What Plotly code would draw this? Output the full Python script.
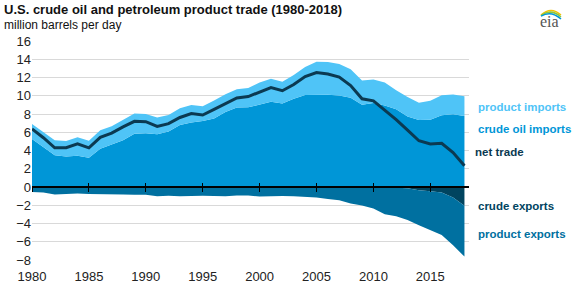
import plotly.graph_objects as go

# 数据 (million barrels per day)
years = list(range(1980, 2019))

crude_imports = [5.26, 4.40, 3.49, 3.33, 3.43, 3.20, 4.18, 4.67, 5.11, 5.84,
                 5.89, 5.78, 6.08, 6.79, 7.06, 7.23, 7.51, 8.23, 8.71, 8.73,
                 9.07, 9.33, 9.14, 9.67, 10.09, 10.13, 10.12, 10.03, 9.78, 9.01,
                 9.21, 8.94, 8.53, 7.73, 7.34, 7.36, 7.85, 7.97, 7.77]

product_imports = [1.65, 1.60, 1.63, 1.72, 2.01, 1.87, 2.05, 2.00, 2.29, 2.22,
                   2.12, 1.84, 1.81, 1.83, 1.93, 1.61, 1.97, 1.94, 2.00, 2.12,
                   2.39, 2.54, 2.39, 2.60, 3.06, 3.59, 3.59, 3.44, 3.13, 2.67,
                   2.58, 2.50, 2.07, 2.13, 1.90, 2.09, 2.20, 2.17, 2.18]

crude_exports = [0.0, 0.0, 0.0, 0.0, 0.0, 0.0, 0.0, 0.0, 0.0, 0.0,
                 0.0, 0.0, 0.0, 0.0, 0.0, 0.0, 0.0, 0.0, 0.0, 0.0,
                 0.0, 0.0, 0.0, 0.0, 0.0, 0.0, 0.0, 0.0, 0.0, 0.0,
                 0.04, 0.05, 0.07, 0.13, 0.35, 0.47, 0.59, 1.16, 2.05]

product_exports = [0.55, 0.60, 0.82, 0.74, 0.72, 0.78, 0.78, 0.76, 0.82, 0.86,
                   0.86, 1.01, 0.95, 1.00, 0.94, 0.95, 0.98, 1.01, 0.94, 0.94,
                   1.04, 0.97, 0.98, 1.02, 1.05, 1.16, 1.32, 1.44, 1.80, 2.02,
                   2.31, 2.94, 3.14, 3.49, 3.83, 4.27, 4.67, 5.22, 5.58]

net_trade = [6.36, 5.40, 4.30, 4.31, 4.72, 4.29, 5.44, 5.91, 6.59, 7.20,
             7.16, 6.63, 6.94, 7.62, 8.05, 7.89, 8.50, 9.16, 9.76, 9.91,
             10.42, 10.90, 10.55, 11.24, 12.10, 12.55, 12.39, 12.04, 11.11, 9.67,
             9.44, 8.45, 7.39, 6.24, 5.07, 4.71, 4.79, 3.77, 2.34]

y_ticks = [16, 14, 12, 10, 8, 6, 4, 2, 0, -2, -4, -6, -8]
x_ticks = [1980, 1985, 1990, 1995, 2000, 2005, 2010, 2015]

C_PROD_IMP = '#4fc4f7'
C_CRUDE_IMP = '#0096d7'
C_CRUDE_EXP = '#00445f'
C_PROD_EXP = '#0070a0'
C_NET = '#0b3a52'
FONT = 'Liberation Sans, Arial, sans-serif'

fig = go.Figure()

# 进口 (正值堆叠)
fig.add_trace(go.Scatter(x=years, y=crude_imports, stackgroup='imp', mode='lines',
                         line=dict(width=0), fillcolor=C_CRUDE_IMP, name='crude oil imports'))
fig.add_trace(go.Scatter(x=years, y=product_imports, stackgroup='imp', mode='lines',
                         line=dict(width=0), fillcolor=C_PROD_IMP, name='product imports'))

# 出口 (负值堆叠)
fig.add_trace(go.Scatter(x=years, y=[-v for v in crude_exports], stackgroup='exp', mode='lines',
                         line=dict(width=0), fillcolor=C_CRUDE_EXP, name='crude exports'))
fig.add_trace(go.Scatter(x=years, y=[-v for v in product_exports], stackgroup='exp', mode='lines',
                         line=dict(width=0), fillcolor=C_PROD_EXP, name='product exports'))

# 净贸易线
fig.add_trace(go.Scatter(x=years, y=net_trade, mode='lines',
                         line=dict(color=C_NET, width=3), name='net trade'))

# 辅助轴 (零线上方刻度 / 底部标签)
fig.add_trace(go.Scatter(x=[1980], y=[0], xaxis='x2', mode='markers',
                         marker=dict(opacity=0), hoverinfo='skip'))
fig.add_trace(go.Scatter(x=[1980], y=[0], xaxis='x3', mode='markers',
                         marker=dict(opacity=0), hoverinfo='skip'))

xr = [1980, 2018.4]
fig.update_layout(
    width=577, height=284,
    margin=dict(l=32, r=108, t=41, b=24, autoexpand=False),
    paper_bgcolor='white', plot_bgcolor='white',
    showlegend=False,
    font=dict(family=FONT, size=13, color='#222'),
    xaxis=dict(range=xr, anchor='free', position=1/3, showgrid=False,
               showline=True, linecolor='black', linewidth=1.5,
               ticks='outside', ticklen=4, tickcolor='black', tickwidth=1,
               tickvals=x_ticks, showticklabels=False, zeroline=False,
               automargin=False),
    xaxis2=dict(range=xr, overlaying='x', anchor='free', position=1/3,
                showgrid=False, showline=False, zeroline=False,
                ticks='inside', ticklen=4, tickcolor='black', tickwidth=1,
                tickvals=x_ticks, showticklabels=False, automargin=False),
    xaxis3=dict(range=xr, overlaying='x', anchor='y', side='bottom',
                showgrid=False, showline=False, zeroline=False,
                ticks='outside', ticklen=4, tickcolor='rgba(0,0,0,0)',
                tickvals=x_ticks, ticktext=[str(t) for t in x_ticks],
                tickfont=dict(size=13, color='#222'), automargin=False),
    yaxis=dict(range=[-8, 16], tickvals=y_ticks, showgrid=True,
               gridcolor='#d9d9d9', gridwidth=1, zeroline=False,
               showline=False, ticks='', tickfont=dict(size=13, color='#222'),
               automargin=False),
)

# 标题
fig.add_annotation(text='<b>U.S. crude oil and petroleum product trade (1980-2018)</b>',
                   xref='paper', yref='paper', x=-30/437, y=(260-10)/219,
                   xanchor='left', yanchor='middle', showarrow=False,
                   font=dict(size=13, color='#111', family=FONT))
fig.add_annotation(text='million barrels per day',
                   xref='paper', yref='paper', x=-30/437, y=(260-25)/219,
                   xanchor='left', yanchor='middle', showarrow=False,
                   font=dict(size=12, color='#111', family=FONT))

# 右侧系列标签
labels = [('product imports', 8.77, C_PROD_IMP, 476),
          ('crude oil imports', 6.36, C_CRUDE_IMP, 476),
          ('net trade', 3.84, C_NET, 473),
          ('crude exports', -2.08, C_CRUDE_EXP, 476),
          ('product exports', -5.15, C_PROD_EXP, 476)]
for txt, yv, col, px in labels:
    fig.add_annotation(text='<b>%s</b>' % txt, xref='paper', yref='y',
                       x=(px - 32) / 437, y=yv, xanchor='left', yanchor='middle',
                       showarrow=False, font=dict(size=11.5, color=col, family=FONT))

# eia 标志
def px2paper(px, py):
    return (px - 32) / 437, (260 - py) / 219

fig.add_annotation(text='eia', xref='paper', yref='paper',
                   x=px2paper(549, 0)[0], y=px2paper(0, 21)[1],
                   xanchor='center', yanchor='middle', showarrow=False,
                   font=dict(size=16, color='#555', family='Liberation Serif, serif'))
for (c, dy) in [('#f5c200', 0), ('#8cc63e', 2), ('#0096d7', 4)]:
    x0, y0 = px2paper(541, 15 + dy * 0.3)
    xm, ym = px2paper(551, 6 + dy)
    x1, y1 = px2paper(561, 15 + dy)
    fig.add_shape(type='path', xref='paper', yref='paper',
                  path='M %f %f Q %f %f %f %f' % (x0, y0, xm, ym, x1, y1),
                  line=dict(color=c, width=1.5))

fig.write_html('out.html', config={'displayModeBar': False},
               post_script="document.body.style.margin='0';")
